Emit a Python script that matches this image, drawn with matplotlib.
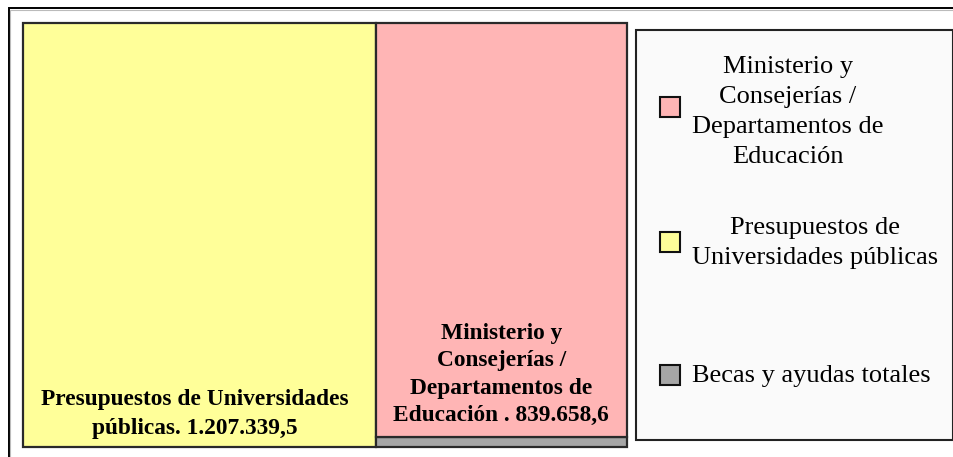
import matplotlib
matplotlib.use("Agg")
import matplotlib.pyplot as plt
from matplotlib.patches import Rectangle

# ---- data ----
categories = ["Presupuestos de Universidades públicas",
              "Ministerio y Consejerías / Departamentos de Educación",
              "Becas y ayudas totales"]
values = [1207339.5, 839658.6, 19250.0]
box_labels = ["Presupuestos de Universidades\npúblicas. 1.207.339,5",
              "Ministerio y\nConsejerías /\nDepartamentos de\nEducación . 839.658,6",
              ""]
legend_labels = ["Ministerio y\nConsejerías /\nDepartamentos de\nEducación",
                 "Presupuestos de\nUniversidades públicas",
                 "Becas y ayudas totales"]
legend_order = [1, 0, 2]
colors = ["#FFFF99", "#FFB5B5", "#A6A6A6"]

W, H = 954, 457
fig = plt.figure(figsize=(W / 100, H / 100), dpi=100)
fig.patch.set_facecolor("white")

def fx(px):
    return px / W

def fy(py):
    return 1 - py / H

# outer frame
fig.patches.append(Rectangle((fx(9), fy(470)), fx(960) - fx(9), fy(8) - fy(470),
                             transform=fig.transFigure, fill=False,
                             edgecolor="black", linewidth=1.4, zorder=0))
fig.patches.append(Rectangle((fx(10.5), fy(470)), fx(960) - fx(10.5), fy(9.6) - fy(470),
                             transform=fig.transFigure, fill=False,
                             edgecolor="#BBBBBB", linewidth=0.8, zorder=0))

# treemap axes
x0, x1, y0, y1 = 23.5, 626.7, 22.7, 446.7
ax = fig.add_axes([fx(x0), fy(y1), fx(x1) - fx(x0), fy(y0) - fy(y1)])
total = sum(values)
ax.set_xlim(0, total)
ax.set_ylim(0, 1)
ax.axis("off")

edge = "#2a2a2a"
lw = 1.6
univ, mini, becas = values
ax.add_patch(Rectangle((0, 0), univ, 1, facecolor=colors[0], edgecolor=edge,
                       linewidth=lw, clip_on=False))
col = mini + becas
bh = becas / col
ax.add_patch(Rectangle((univ, 0), col, bh, facecolor=colors[2], edgecolor=edge,
                       linewidth=lw, clip_on=False))
ax.add_patch(Rectangle((univ, bh), col, 1 - bh, facecolor=colors[1], edgecolor=edge,
                       linewidth=lw, clip_on=False))

font = "Liberation Serif"
ax.annotate(box_labels[0], xy=(univ / 2, 0), xytext=(-5, 8), textcoords="offset pixels",
            ha="center", va="bottom", fontsize=16.8, fontweight="bold", family=font,
            linespacing=1.5, multialignment="center")
ax.annotate(box_labels[1], xy=(univ + col / 2, bh), xytext=(0, 11), textcoords="offset pixels",
            ha="center", va="bottom", fontsize=16.8, fontweight="bold", family=font,
            linespacing=1.4, multialignment="center")

# legend box
lx0, ly0, lx1, ly1 = 636, 29.5, 953, 440
fig.patches.append(Rectangle((fx(lx0), fy(ly1)), fx(lx1) - fx(lx0), fy(ly0) - fy(ly1),
                             transform=fig.transFigure, facecolor="#FAFAFA",
                             edgecolor="#222222", linewidth=1.5, zorder=1))
centers = [107, 242, 375]
text_shift = [4, 0, 0]
for i, idx in enumerate(legend_order):
    cy = centers[i]
    fig.patches.append(Rectangle((fx(660), fy(cy + 10)), fx(680) - fx(660), fy(cy - 10) - fy(cy + 10),
                                 transform=fig.transFigure, facecolor=colors[idx],
                                 edgecolor="#111111", linewidth=1.5, zorder=2))
    fig.text(fx(692), fy(cy + 1 + text_shift[i]), legend_labels[i], ha="left", va="center",
             multialignment="center", fontsize=19, family=font, linespacing=1.48, zorder=3)

fig.savefig("out.png", dpi=100)
